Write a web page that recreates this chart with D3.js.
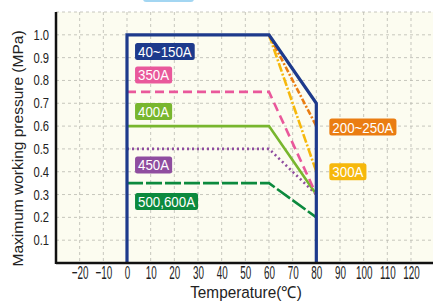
<!DOCTYPE html>
<html>
<head>
<meta charset="utf-8">
<script src="https://cdn.jsdelivr.net/npm/d3@7"></script>
<style>
	body { margin: 0; background: #fff; }
	svg { display: block; }
</style>
</head>
<body>
<div id="vis"></div>
<script>

var xTicks = [-20, -10, 0, 10, 20, 30, 40, 50, 60, 70, 80, 90, 100, 110, 120];
var yTicks = [0.1, 0.2, 0.3, 0.4, 0.5, 0.6, 0.7, 0.8, 0.9, 1.0];

// series: name, points [temperature, pressure]
var seriesNames = ["40~150A", "200~250A", "300A", "350A", "400A", "450A", "500,600A"];
var seriesPoints = [
	[[0, 0], [0, 1.0], [60, 1.0], [80, 0.7], [80, 0]],
	[[60, 1.0], [80, 0.6]],
	[[60, 1.0], [80, 0.4]],
	[[0, 0.75], [60, 0.75], [80, 0.3]],
	[[0, 0.6], [60, 0.6], [80, 0.3]],
	[[0, 0.5], [60, 0.5], [80, 0.3]],
	[[0, 0.35], [60, 0.35], [80, 0.2]]
];
var seriesColours = ["#1d3a8c", "#ea7d12", "#f6b80c", "#e9589b", "#78b62e", "#8f4d9f", "#0c8a3e"];
var seriesDash = [null, "6,2,2,2", "9,2,2,2", "9,5", null, "2,3", "16,3"];
// label anchor: [temperature, pressure] of the badge's left / middle
var labelPos = [[3.4, 0.927], [85.5, 0.596], [85.5, 0.40], [3.4, 0.824], [3.4, 0.664], [3.4, 0.43], [3.4, 0.27]];

var w = 433, h = 301;
var margin = {left: 56, top: 12, right: 0, bottom: 38};
var font = "'Liberation Sans', Arial, sans-serif";

// the picture uses a condensed face, so squeeze texts sideways round their own x
function squeeze (sel, f) {
	sel.each(function () {
		var x0 = +(d3.select(this).attr("x") || 0);
		d3.select(this)
		.attr("transform", "translate(" + x0 + ",0) scale(" + f + ",1) translate(" + (-x0) + ",0)");
	});
}

var svg = d3.select("#vis").append("svg")
	.attr("width", w)
	.attr("height", h);

// little cut off tab at the top
svg.append("rect")
	.attr("x", 143).attr("y", -6)
	.attr("width", 51).attr("height", 8)
	.attr("rx", 3)
	.attr("fill", "#a3d6f2");

var x = d3.scaleLinear()
	.domain([-30, 129.3])
	.range([margin.left, w - margin.right]);

var y = d3.scaleLinear()
	.domain([0, 1.1])
	.range([h - margin.bottom, margin.top]);

svg.append("rect")
	.attr("x", x(-30)).attr("y", y(1.1))
	.attr("width", x(129.3) - x(-30))
	.attr("height", y(0) - y(1.1))
	.attr("fill", "#fcfcf0");

// grid
var grid = svg.append("g")
	.attr("stroke", "#b9b9b0")
	.attr("stroke-width", 0.8)
	.attr("stroke-dasharray", "3,3");

grid.selectAll(".vgrid")
	.data(xTicks.concat([130]))
	.enter()
	.append("line")
	.attr("x1", function (d) { return x(d); })
	.attr("x2", function (d) { return x(d); })
	.attr("y1", y(1.1))
	.attr("y2", y(0));

grid.selectAll(".hgrid")
	.data(yTicks.concat([1.1]))
	.enter()
	.append("line")
	.attr("x1", x(-30))
	.attr("x2", w)
	.attr("y1", function (d) { return y(d); })
	.attr("y2", function (d) { return y(d); });

// series lines
var line = d3.line()
	.x(function (d) { return x(d[0]); })
	.y(function (d) { return y(d[1]); });

// draw in reverse so the navy outline sits on top
var order = d3.range(seriesNames.length).reverse();

svg.append("g")
	.selectAll("path")
	.data(order)
	.enter()
	.append("path")
	.attr("d", function (i) { return line(seriesPoints[i]); })
	.attr("fill", "none")
	.attr("stroke", function (i) { return seriesColours[i]; })
	.attr("stroke-width", function (i) { return i == 0 ? 3.2 : 2.6; })
	.attr("stroke-dasharray", function (i) { return seriesDash[i]; })
	.attr("stroke-linejoin", "miter");

// axes
var xAxis = svg.append("g")
	.attr("transform", "translate(0," + y(0) + ")")
	.call(d3.axisBottom(x).tickValues(xTicks).tickSize(0).tickPadding(2).tickFormat(function (d) {
		return d < 0 ? "\u2212" + Math.abs(d) : d;
	}));
xAxis.select(".domain").remove();
xAxis.selectAll("text")
	.style("font-family", font)
	.style("font-size", "19px")
	.attr("fill", "#222")
	.call(squeeze, 0.52);

var yAxis = svg.append("g")
	.attr("transform", "translate(" + x(-30) + ",0)")
	.call(d3.axisLeft(y).tickValues(yTicks).tickSize(0).tickPadding(7).tickFormat(d3.format(".1f")));
yAxis.select(".domain").remove();
yAxis.selectAll("text")
	.style("font-family", font)
	.style("font-size", "14px")
	.attr("fill", "#222")
	.call(squeeze, 0.8);

svg.append("line")
	.attr("x1", x(-30)).attr("x2", w)
	.attr("y1", y(0)).attr("y2", y(0))
	.attr("stroke", "#111").attr("stroke-width", 2.5);

svg.append("line")
	.attr("x1", x(-30)).attr("x2", x(-30))
	.attr("y1", y(1.1)).attr("y2", y(0) + 1)
	.attr("stroke", "#111").attr("stroke-width", 2.5);

// badges
var badgeF = 0.86;

var badges = svg.append("g")
	.selectAll("g")
	.data(d3.range(seriesNames.length))
	.enter()
	.append("g")
	.attr("transform", function (i) {
		return "translate(" + x(labelPos[i][0]) + "," + y(labelPos[i][1]) + ")";
	});

var badgeText = badges.append("text")
	.text(function (i) { return seriesNames[i]; })
	.attr("x", 3)
	.attr("y", 5.5)
	.attr("font-family", font)
	.attr("font-size", 15.5)
	.attr("fill", "#fff")
	.call(squeeze, badgeF);

badgeText.each(function (i) {
	var len = this.getComputedTextLength() * badgeF;
	d3.select(this.parentNode).insert("rect", "text")
		.attr("x", 0)
		.attr("y", -8.5)
		.attr("width", len + 6)
		.attr("height", 17)
		.attr("rx", 2.5)
		.attr("fill", seriesColours[i]);
});

// axis titles
svg.append("text")
	.text("Maximum working pressure (MPa)")
	.attr("transform", "translate(22.5," + y(0.502) + ") rotate(-90)")
	.attr("text-anchor", "middle")
	.attr("font-family", font)
	.attr("font-size", 15.5)
	.attr("fill", "#222");

svg.append("text")
	.text("Temperature(\u2103)")
	.attr("x", x(50.3))
	.attr("y", 298)
	.attr("text-anchor", "middle")
	.attr("font-family", font)
	.attr("font-size", 16.5)
	.attr("fill", "#222")
	.call(squeeze, 0.93);

</script>
</body>
</html>
